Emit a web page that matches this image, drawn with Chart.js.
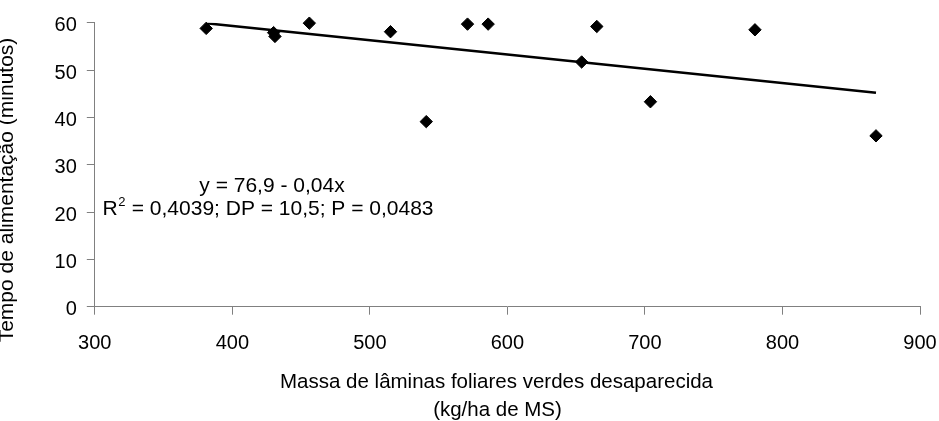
<!DOCTYPE html>
<html>
<head>
<meta charset="utf-8">
<script src="https://cdn.jsdelivr.net/npm/chart.js@4/dist/chart.umd.min.js"></script>
<style>
  html, body { margin: 0; padding: 0; background: #ffffff; overflow: hidden; width: 939px; height: 421px; }
  canvas { display: block; }
</style>
</head>
<body>
<canvas id="c" width="939" height="421" style="width:939px;height:421px"></canvas>
<script>
// Green leaf-blade mass removed (kg/ha DM) vs. grazing time (minutes)
const massaLaminas = [381, 430, 431, 456, 515, 541, 571, 586, 654, 665, 704, 780, 868];
const tempoAlimentacao = [58.8, 57.9, 57.1, 59.9, 58.1, 39.1, 59.7, 59.7, 51.7, 59.2, 43.3, 58.5, 36.1];

const xTickValues = [300, 400, 500, 600, 700, 800, 900];
const yTickValues = [0, 10, 20, 30, 40, 50, 60];

const yTitle = 'Tempo de alimentação (minutos)';
const xTitle = ['Massa de lâminas foliares verdes desaparecida', '(kg/ha de MS)'];
const equationText = 'y = 76,9 - 0,04x';
const statsText = ' = 0,4039; DP = 10,5; P = 0,0483';

const FONT = "'Liberation Sans', Arial, sans-serif";
const AXIS_GREY = '#808080';

// Least-squares trend line over the observed range
function trendLine(xs, ys) {
  const n = xs.length;
  const mx = xs.reduce((a, b) => a + b, 0) / n;
  const my = ys.reduce((a, b) => a + b, 0) / n;
  let sxy = 0, sxx = 0;
  for (let i = 0; i < n; i++) {
    sxy += (xs[i] - mx) * (ys[i] - my);
    sxx += (xs[i] - mx) * (xs[i] - mx);
  }
  const b = sxy / sxx;
  const a = my - b * mx;
  const x0 = Math.min(...xs), x1 = Math.max(...xs);
  return [{ x: x0, y: a + b * x0 }, { x: x1, y: a + b * x1 }];
}

const points = massaLaminas.map((x, i) => ({ x, y: tempoAlimentacao[i] }));

// Axis titles and the regression annotation
const textPlugin = {
  id: 'chartText',
  afterDraw(chart) {
    const ctx = chart.ctx;
    ctx.save();
    ctx.fillStyle = '#000';
    ctx.textBaseline = 'alphabetic';

    // y-axis title, rotated, running off the left edge
    ctx.save();
    ctx.font = `21px ${FONT}`;
    ctx.textAlign = 'center';
    ctx.translate(13, 190);
    ctx.rotate(-Math.PI / 2);
    ctx.fillText(yTitle, 0, 0);
    ctx.restore();

    // x-axis title (two lines)
    ctx.font = `20.5px ${FONT}`;
    ctx.textAlign = 'center';
    ctx.fillText(xTitle[0], 496.5, 388);
    ctx.fillText(xTitle[1], 497.5, 416);

    // regression equation and statistics
    ctx.font = `21px ${FONT}`;
    ctx.textAlign = 'center';
    ctx.fillText(equationText, 272, 192);

    ctx.textAlign = 'left';
    let x = 102.5;
    const y = 215;
    ctx.fillText('R', x, y);
    x += ctx.measureText('R').width;
    ctx.font = `13px ${FONT}`;
    ctx.fillText('2', x + 0.5, y - 9);
    x += ctx.measureText('2').width + 1;
    ctx.font = `21px ${FONT}`;
    ctx.fillText(statsText, x, y);
    ctx.restore();
  }
};

new Chart(document.getElementById('c'), {
  type: 'scatter',
  data: {
    datasets: [
      {
        data: points,
        pointStyle: 'rectRot',
        pointRadius: 6.2,
        pointHoverRadius: 6.2,
        backgroundColor: '#000',
        borderColor: '#000',
        borderWidth: 1,
        clip: false
      },
      {
        type: 'line',
        data: trendLine(massaLaminas, tempoAlimentacao),
        borderColor: '#000',
        borderWidth: 2.6,
        pointRadius: 0,
        fill: false,
        tension: 0
      }
    ]
  },
  options: {
    responsive: false,
    devicePixelRatio: 1,
    animation: false,
    events: [],
    layout: { padding: { top: 22.7, right: 19, left: 0, bottom: 0 } },
    plugins: {
      legend: { display: false },
      tooltip: { enabled: false }
    },
    scales: {
      x: {
        type: 'linear',
        min: 300,
        max: 900,
        afterBuildTicks: s => { s.ticks = xTickValues.map(v => ({ value: v })); },
        ticks: { color: '#000', font: { family: FONT, size: 20 }, padding: 17, maxRotation: 0 },
        grid: { drawOnChartArea: false, drawTicks: true, tickLength: 8, tickColor: AXIS_GREY, color: AXIS_GREY },
        border: { display: true, color: AXIS_GREY, width: 1 },
        afterFit: s => { s.height = 114.3; s.paddingLeft = 0; s.paddingRight = 0; }
      },
      y: {
        type: 'linear',
        min: 0,
        max: 60,
        afterBuildTicks: s => { s.ticks = yTickValues.map(v => ({ value: v })); },
        ticks: { color: '#000', font: { family: FONT, size: 20 }, padding: 10, labelOffset: 3 },
        grid: { drawOnChartArea: false, drawTicks: true, tickLength: 8, tickColor: AXIS_GREY, color: AXIS_GREY },
        border: { display: true, color: AXIS_GREY, width: 1 },
        afterFit: s => { s.width = 94.8; }
      }
    }
  },
  plugins: [textPlugin]
});
</script>
</body>
</html>
